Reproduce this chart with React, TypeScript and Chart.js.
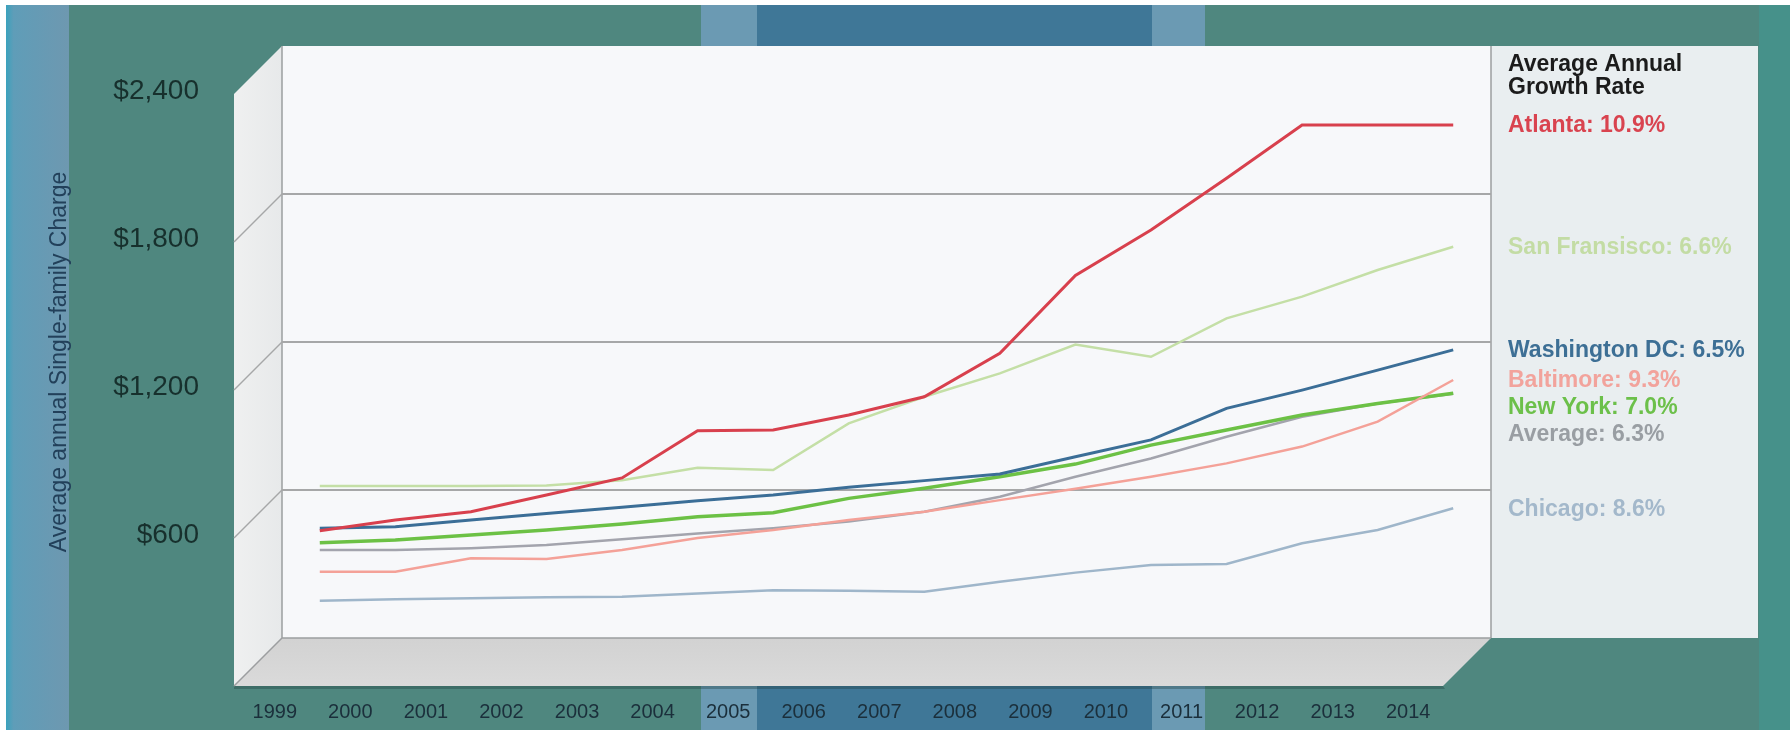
import React, { useEffect, useRef } from "react";
import { Chart, registerables } from "chart.js";

Chart.register(...registerables);

// ---------- data ----------
const years = ["1999", "2000", "2001", "2002", "2003", "2004", "2005", "2006", "2007", "2008", "2009", "2010", "2011", "2012", "2013", "2014"];

const atlanta = [435, 478, 512, 580, 649, 840, 843, 904, 978, 1154, 1470, 1654, 1864, 2080, 2080, 2080];
const sanFrancisco = [616, 616, 616, 618, 640, 690, 681, 870, 978, 1073, 1190, 1140, 1296, 1384, 1492, 1586];
const washingtonDC = [445, 451, 478, 505, 530, 556, 580, 611, 638, 665, 735, 803, 931, 1005, 1086, 1168];
const baltimore = [269, 269, 323, 320, 357, 405, 438, 478, 512, 559, 605, 654, 708, 776, 877, 1046];
const newYork = [386, 397, 418, 438, 462, 492, 508, 566, 607, 654, 705, 782, 843, 904, 951, 992];
const average = [357, 357, 364, 377, 400, 424, 445, 472, 512, 573, 654, 728, 816, 897, 951, 990];
const chicago = [151, 157, 161, 165, 167, 180, 194, 192, 188, 228, 265, 296, 300, 384, 438, 526];

const cityNames = ["Atlanta", "San Fransisco", "Washington DC", "Baltimore", "New York", "Average", "Chicago"];
const growthRates = ["10.9%", "6.6%", "6.5%", "9.3%", "7.0%", "6.3%", "8.6%"];
const lineColors = ["#d8404d", "#c4dfa6", "#3b6e97", "#f4a198", "#6cc145", "#a3a4ad", "#9fb6ca"];
const textColors = ["#d9434f", "#c3dca4", "#3d6f95", "#f2a39c", "#6cc04a", "#999ea3", "#a3b8cb"];
const lineWidths = [3, 2.5, 3, 2.5, 3.5, 2.5, 2.5];
const seriesValues = [atlanta, sanFrancisco, washingtonDC, baltimore, newYork, average, chicago];

const yTicks = [600, 1200, 1800, 2400];
const yTickLabels = ["$600", "$1,200", "$1,800", "$2,400"];
const yTitle = "Average annual Single-family Charge";
const legendTitle = ["Average Annual", "Growth Rate"];

const DEPTH = 48;
const FONT = '"Liberation Sans", Arial, Helvetica, sans-serif';

const threeD = {
  id: "threeD",
  beforeDraw(chart: any) {
    const ctx = chart.ctx as CanvasRenderingContext2D;
    const { left, right, top, bottom } = chart.chartArea;
    const W = chart.width;
    const H = chart.height;
    ctx.save();
    // page background
    ctx.fillStyle = "#4f877f";
    ctx.fillRect(0, 0, W, H);
    ctx.fillStyle = "#6b9ab3";
    ctx.fillRect(701, 0, 56, H);
    ctx.fillRect(1152, 0, 53, H);
    ctx.fillStyle = "#3f7797";
    ctx.fillRect(757, 0, 395, H);
    const lg = ctx.createLinearGradient(6, 0, 69, 0);
    lg.addColorStop(0, "#3aa2bd");
    lg.addColorStop(0.12, "#5f9db8");
    lg.addColorStop(1, "#6e98b0");
    ctx.fillStyle = lg;
    ctx.fillRect(6, 0, 63, H);
    ctx.fillStyle = "#46918a";
    ctx.fillRect(1759, 0, W - 1759, H);
    ctx.fillStyle = "#ffffff";
    ctx.fillRect(0, 0, W, 5);
    ctx.fillRect(0, 0, 6, H);

    // floor shadow
    ctx.fillStyle = "rgba(30,60,60,0.35)";
    ctx.beginPath();
    ctx.moveTo(left - DEPTH, bottom + DEPTH);
    ctx.lineTo(right - DEPTH, bottom + DEPTH);
    ctx.lineTo(right - DEPTH + 2, bottom + DEPTH + 3);
    ctx.lineTo(left - DEPTH, bottom + DEPTH + 3);
    ctx.closePath();
    ctx.fill();

    // left side wall
    const wg = ctx.createLinearGradient(left - DEPTH, 0, left, 0);
    wg.addColorStop(0, "#eff0f0");
    wg.addColorStop(1, "#e7e9ea");
    ctx.fillStyle = wg;
    ctx.beginPath();
    ctx.moveTo(left - DEPTH, top + DEPTH);
    ctx.lineTo(left, top);
    ctx.lineTo(left, bottom);
    ctx.lineTo(left - DEPTH, bottom + DEPTH);
    ctx.closePath();
    ctx.fill();

    // floor
    const fg = ctx.createLinearGradient(0, bottom, 0, bottom + DEPTH);
    fg.addColorStop(0, "#d2d2d2");
    fg.addColorStop(1, "#dadada");
    ctx.fillStyle = fg;
    ctx.beginPath();
    ctx.moveTo(left, bottom);
    ctx.lineTo(right, bottom);
    ctx.lineTo(right - DEPTH, bottom + DEPTH);
    ctx.lineTo(left - DEPTH, bottom + DEPTH);
    ctx.closePath();
    ctx.fill();

    // back plane
    ctx.fillStyle = "#f7f8fa";
    ctx.fillRect(left, top, right - left, bottom - top);

    // legend panel
    ctx.fillStyle = "#e9eef0";
    ctx.fillRect(right, top, 1758 - right, bottom - top);

    // back plane edges
    ctx.strokeStyle = "#9c9ea0";
    ctx.lineWidth = 1.5;
    ctx.beginPath();
    ctx.moveTo(left, top);
    ctx.lineTo(left, bottom);
    ctx.lineTo(right, bottom);
    ctx.moveTo(right, top);
    ctx.lineTo(right, bottom);
    ctx.moveTo(left, bottom);
    ctx.lineTo(left - DEPTH, bottom + DEPTH);
    ctx.stroke();
    ctx.restore();
  },
  beforeDatasetsDraw(chart: any) {
    const ctx = chart.ctx as CanvasRenderingContext2D;
    const { left, right } = chart.chartArea;
    const ys = chart.scales.y;
    ctx.save();
    ctx.strokeStyle = "#a6a7a8";
    ctx.lineWidth = 2;
    for (const v of yTicks) {
      if (v >= 2400) continue;
      const y = Math.round(ys.getPixelForValue(v));
      ctx.beginPath();
      ctx.moveTo(left, y);
      ctx.lineTo(right, y);
      ctx.stroke();
      ctx.lineWidth = 1.5;
      ctx.beginPath();
      ctx.moveTo(left, y);
      ctx.lineTo(left - DEPTH, y + DEPTH);
      ctx.stroke();
      ctx.lineWidth = 2;
    }
    ctx.restore();
  },
  afterDraw(chart: any) {
    const ctx = chart.ctx as CanvasRenderingContext2D;
    const { left, right, top } = chart.chartArea;
    const xs = chart.scales.x;
    const ys = chart.scales.y;
    ctx.save();
    // y tick labels
    ctx.font = `28px ${FONT}`;
    ctx.fillStyle = "#17302d";
    ctx.textAlign = "right";
    ctx.textBaseline = "middle";
    yTicks.forEach((v, i) => {
      ctx.fillText(yTickLabels[i], left - DEPTH - 35, ys.getPixelForValue(v) + 45);
    });
    // x labels
    ctx.font = `20px ${FONT}`;
    ctx.fillStyle = "#1b2f3b";
    ctx.textAlign = "center";
    years.forEach((yr, i) => {
      ctx.fillText(yr, xs.getPixelForValue(i) - DEPTH + 3, 712);
    });
    // y title
    ctx.save();
    ctx.translate(60, 362);
    ctx.rotate(-Math.PI / 2);
    ctx.font = `23px ${FONT}`;
    ctx.fillStyle = "#22405a";
    ctx.textAlign = "center";
    ctx.textBaseline = "middle";
    ctx.fillText(yTitle, 0, 0);
    ctx.restore();
    // legend
    const lx = right + 17;
    ctx.textAlign = "left";
    ctx.textBaseline = "middle";
    ctx.font = `bold 23px ${FONT}`;
    ctx.fillStyle = "#1b1b1b";
    ctx.fillText(legendTitle[0], lx, top + 19);
    ctx.fillText(legendTitle[1], lx, top + 42);
    const order = seriesValues
      .map((s, i) => ({ i, v: s[s.length - 1] }))
      .sort((a, b) => b.v - a.v || a.i - b.i);
    let prev = -Infinity;
    for (const o of order) {
      let y = ys.getPixelForValue(o.v) + 1;
      if (y < prev + 27) y = prev + 27;
      prev = y;
      ctx.fillStyle = textColors[o.i];
      ctx.fillText(`${cityNames[o.i]}: ${growthRates[o.i]}`, lx, y);
    }
    ctx.restore();
  },
};

export default function App() {
  const ref = useRef<HTMLCanvasElement | null>(null);
  useEffect(() => {
    if (!ref.current) return;
    const chart = new Chart(ref.current, {
      type: "line",
      data: {
        labels: years,
        datasets: seriesValues.map((vals, i) => ({
          label: cityNames[i],
          data: vals,
          borderColor: lineColors[i],
          backgroundColor: lineColors[i],
          borderWidth: lineWidths[i],
          pointRadius: 0,
          tension: 0,
          fill: false,
        })),
      },
      options: {
        responsive: false,
        animation: false,
        devicePixelRatio: 1,
        layout: { padding: { left: 282, top: 46, right: 299, bottom: 92 } },
        plugins: {
          legend: { display: false },
          tooltip: { enabled: false },
          title: { display: false },
        },
        scales: {
          x: { display: false, offset: true },
          y: { display: false, min: 0, max: 2400 },
        },
      },
      plugins: [threeD],
    } as any);
    return () => chart.destroy();
  }, []);
  return (
    <div style={{ position: "fixed", left: 0, top: 0, width: 1790, height: 730 }}>
      <canvas ref={ref} width={1790} height={730} style={{ display: "block" }} />
    </div>
  );
}
